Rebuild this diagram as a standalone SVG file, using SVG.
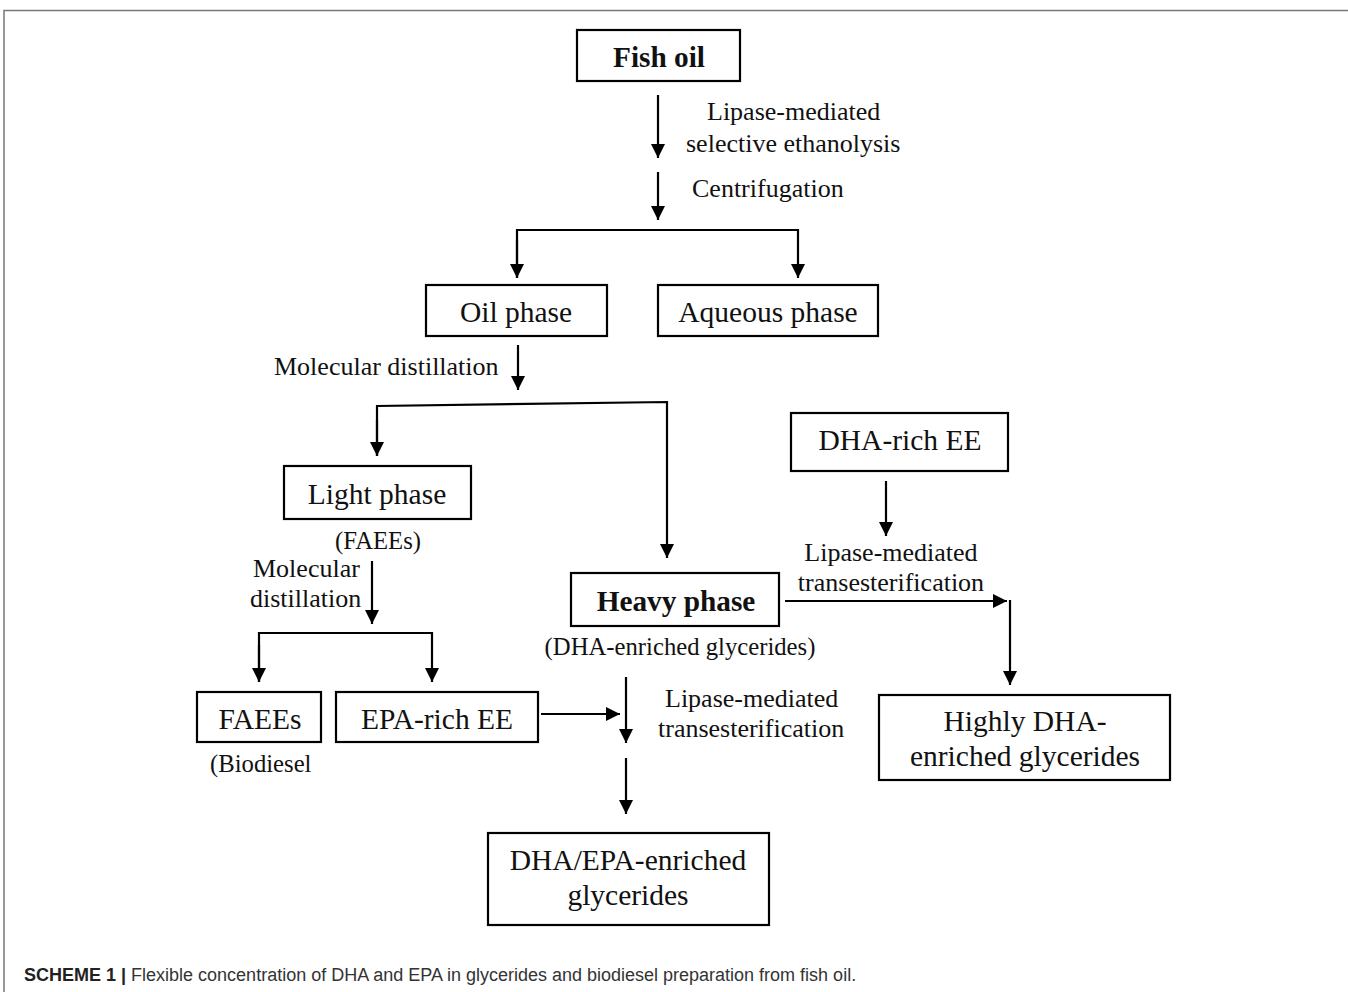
<svg xmlns="http://www.w3.org/2000/svg" width="1348" height="992" viewBox="0 0 1348 992">
<style>
.box{fill:#fff;stroke:#000;stroke-width:2.2}
.t{font-family:"Liberation Serif","Times New Roman",serif;font-size:29.5px;fill:#111;text-anchor:middle}
.b{font-weight:bold;font-size:29.3px}
.l{font-family:"Liberation Serif","Times New Roman",serif;font-size:26px;fill:#111}
.p{font-size:24.7px}
.c{stroke:#000;stroke-width:2.2;fill:none}
.cap{font-family:"Liberation Sans",Arial,sans-serif;font-size:18px;fill:#333}
</style>
<defs>
<marker id="ahb" viewBox="0 0 10 10" refX="10" refY="5" markerWidth="14" markerHeight="14" markerUnits="userSpaceOnUse" orient="auto">
<path d="M0,0 L10,5 L0,10 z" fill="#000"/>
</marker>
</defs>
<rect width="1348" height="992" fill="#fff"/>
<path d="M4,992 L4,10.5 L1348,10.5" stroke="#777" stroke-width="1.5" fill="none"/>

<g id="connectors">
<line class="c" x1="658" y1="95" x2="658" y2="158" marker-end="url(#ahb)"/>
<line class="c" x1="658" y1="172" x2="658" y2="220" marker-end="url(#ahb)"/>
<path class="c" d="M517,278 L517,230 L798,230 L798,278" marker-end="url(#ahb)"/>
<line class="c" x1="517" y1="240" x2="517" y2="278" marker-end="url(#ahb)"/>
<line class="c" x1="518" y1="345" x2="518" y2="390" marker-end="url(#ahb)"/>
<path class="c" d="M377,456 L377,406 L667,402 L667,558" marker-end="url(#ahb)"/>
<line class="c" x1="377" y1="420" x2="377" y2="456" marker-end="url(#ahb)"/>
<line class="c" x1="372" y1="561" x2="372" y2="624" marker-end="url(#ahb)"/>
<path class="c" d="M259,682 L259,633 L432,633 L432,682" marker-end="url(#ahb)"/>
<line class="c" x1="259" y1="645" x2="259" y2="682" marker-end="url(#ahb)"/>
<line class="c" x1="541" y1="714" x2="620" y2="714" marker-end="url(#ahb)"/>
<line class="c" x1="626" y1="677" x2="626" y2="743" marker-end="url(#ahb)"/>
<line class="c" x1="626" y1="758" x2="626" y2="814" marker-end="url(#ahb)"/>
<line class="c" x1="886" y1="481" x2="886" y2="536" marker-end="url(#ahb)"/>
<line class="c" x1="785" y1="601" x2="1007" y2="601" marker-end="url(#ahb)"/>
<line class="c" x1="1010" y1="600" x2="1010" y2="685" marker-end="url(#ahb)"/>
</g>

<g id="labels">
<text class="l" x="707" y="120">Lipase-mediated</text>
<text class="l" x="686" y="152">selective ethanolysis</text>
<text class="l" x="692" y="197">Centrifugation</text>
<text class="l" x="274" y="375">Molecular distillation</text>
<text class="l" x="253" y="577">Molecular</text>
<text class="l" x="250" y="607">distillation</text>
<text class="l p" x="378" y="549" text-anchor="middle">(FAEEs)</text>
<text class="l p" x="210" y="772">(Biodiesel</text>
<text class="l p" x="680" y="655" text-anchor="middle">(DHA-enriched glycerides)</text>
<text class="l" x="665" y="707">Lipase-mediated</text>
<text class="l" x="658" y="737">transesterification</text>
<text class="l" x="891" y="561" text-anchor="middle">Lipase-mediated</text>
<text class="l" x="891" y="591" text-anchor="middle">transesterification</text>
</g>

<g id="fish-oil"><rect class="box" x="577" y="30" width="163" height="51"/><text class="t b" x="659" y="67">Fish oil</text></g>
<g id="oil-phase"><rect class="box" x="426" y="285" width="181" height="51"/><text class="t" x="516" y="322">Oil phase</text></g>
<g id="aqueous-phase"><rect class="box" x="658" y="285" width="220" height="51"/><text class="t" x="768" y="322">Aqueous phase</text></g>
<g id="light-phase"><rect class="box" x="284" y="466" width="187" height="53"/><text class="t" x="377" y="504">Light phase</text></g>
<g id="heavy-phase"><rect class="box" x="571" y="573" width="208" height="53"/><text class="t b" x="676" y="611">Heavy phase</text></g>
<g id="dha-rich-ee"><rect class="box" x="791" y="413" width="217" height="58"/><text class="t" x="900" y="450">DHA-rich EE</text></g>
<g id="faees"><rect class="box" x="197" y="692" width="124" height="50"/><text class="t" x="260" y="729">FAEEs</text></g>
<g id="epa-rich-ee"><rect class="box" x="336" y="692" width="202" height="50"/><text class="t" x="437" y="729">EPA-rich EE</text></g>
<g id="dha-epa-glycerides"><rect class="box" x="488" y="833" width="281" height="92"/><text class="t" x="628" y="870">DHA/EPA-enriched</text><text class="t" x="628" y="905">glycerides</text></g>
<g id="highly-dha-glycerides"><rect class="box" x="879" y="695" width="291" height="85"/><text class="t" x="1025" y="731">Highly DHA-</text><text class="t" x="1025" y="766">enriched glycerides</text></g>

<text class="cap" x="24" y="981"><tspan font-weight="bold" fill="#222">SCHEME 1 |</tspan> Flexible concentration of DHA and EPA in glycerides and biodiesel preparation from fish oil.</text>
</svg>
